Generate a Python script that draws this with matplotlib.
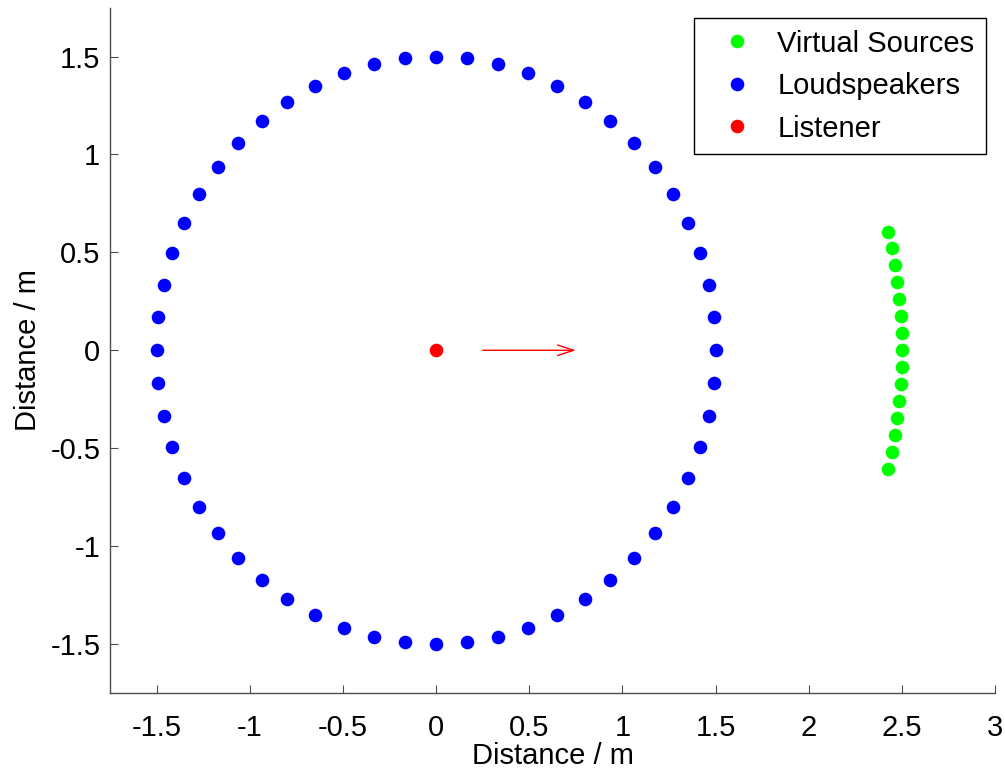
"""
Layout of the loudspeaker ring, the virtual sources and the listener.
"""

import numpy as np
from matplotlib import pyplot as plt

# loudspeaker ring (azimuth in degrees, radius in m)
speaker_radius = 1.5
speaker_azimuth = [0.0, 6.43, 12.86, 19.29, 25.71, 32.14, 38.57, 45.0, 51.43, 57.86,
                   64.29, 70.71, 77.14, 83.57, 90.0, 96.43, 102.86, 109.29, 115.71,
                   122.14, 128.57, 135.0, 141.43, 147.86, 154.29, 160.71, 167.14,
                   173.57, 180.0, 186.43, 192.86, 199.29, 205.71, 212.14, 218.57,
                   225.0, 231.43, 237.86, 244.29, 250.71, 257.14, 263.57, 270.0,
                   276.43, 282.86, 289.29, 295.71, 302.14, 308.57, 315.0, 321.43,
                   327.86, 334.29, 340.71, 347.14, 353.57]

# virtual sources on a wider arc in front of the listener
source_radius = 2.5
source_azimuth = [-14, -12, -10, -8, -6, -4, -2, 0, 2, 4, 6, 8, 10, 12, 14]

# listener position and look direction
listener_x = [0.0]
listener_y = [0.0]
view_start = (0.25, 0.0)
view_end = (0.75, 0.0)

labels = ['Virtual Sources', 'Loudspeakers', 'Listener']


def polar_to_xy(radius, azimuth_deg):
    a = np.deg2rad(np.asarray(azimuth_deg, dtype=float))
    return radius * np.cos(a), radius * np.sin(a)


def main():
    plt.rcParams['font.family'] = ['Liberation Sans', 'DejaVu Sans']
    plt.rcParams['font.size'] = 21

    fig = plt.figure(figsize=(10.05, 7.74), dpi=100)
    ax = fig.add_axes([0.1095, 0.1047, 0.8806, 0.8855])

    src_x, src_y = polar_to_xy(source_radius, source_azimuth)
    spk_x, spk_y = polar_to_xy(speaker_radius, speaker_azimuth)

    ax.plot(src_x, src_y, 'o', color=(0, 1, 0), ms=9.8, mec='none', label=labels[0])
    ax.plot(spk_x, spk_y, 'o', color=(0, 0, 1), ms=9.8, mec='none', label=labels[1])
    ax.plot(listener_x, listener_y, 'o', color=(1, 0, 0), ms=9.8, mec='none', label=labels[2])

    ax.annotate('', xy=view_end, xytext=view_start,
                arrowprops=dict(arrowstyle='->,head_length=0.55,head_width=0.18',
                                color=(1, 0, 0), lw=1.0, shrinkA=0, shrinkB=0))

    ax.set_xlim(-1.75, 3)
    ax.set_ylim(-1.75, 1.75)
    ax.set_xticks([-1.5, -1, -0.5, 0, 0.5, 1, 1.5, 2, 2.5, 3])
    ax.set_xticklabels(['-1.5', '-1', '-0.5', '0', '0.5', '1', '1.5', '2', '2.5', '3'])
    ax.set_yticks([-1.5, -1, -0.5, 0, 0.5, 1, 1.5])
    ax.set_yticklabels(['-1.5', '-1', '-0.5', '0', '0.5', '1', '1.5'])

    for side in ('top', 'right'):
        ax.spines[side].set_visible(False)
    for side in ('left', 'bottom'):
        ax.spines[side].set_color('#4d4d4d')
        ax.spines[side].set_linewidth(1.0)
    ax.tick_params(direction='in', length=6, width=0.8, color='#4d4d4d')
    ax.tick_params(axis='x', pad=15)
    ax.tick_params(axis='y', pad=7)

    ax.set_xlabel('Distance / m', labelpad=0)
    ax.set_ylabel('Distance / m', labelpad=6)

    leg = ax.legend(loc='upper right', bbox_to_anchor=(0.99, 0.985), fancybox=False,
                    edgecolor='black', framealpha=1, handletextpad=0.3,
                    borderpad=0.4, labelspacing=0.5, handlelength=2.15,
                    borderaxespad=0)
    leg.get_frame().set_linewidth(1.0)

    plt.savefig('out.png', dpi=100)


if __name__ == '__main__':
    main()
